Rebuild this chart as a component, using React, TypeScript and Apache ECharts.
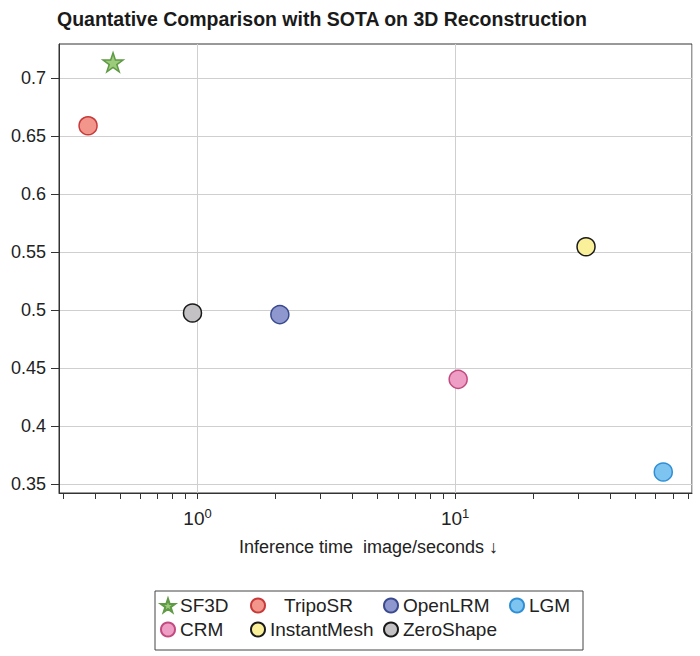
import React, { useEffect, useRef } from 'react';
import * as echarts from 'echarts';

const chartTitle = 'Quantative Comparison with SOTA on 3D Reconstruction';
const xAxisName = 'Inference time  image/seconds ↓';
const methods = ['SF3D', 'TripoSR', 'OpenLRM', 'LGM', 'CRM', 'InstantMesh', 'ZeroShape'];
const inferenceTimes = [0.47, 0.376, 2.087, 64.2, 10.27, 32.2, 0.956];
const scores = [0.7138, 0.6591, 0.4963, 0.3606, 0.4405, 0.5548, 0.4977];
const fillColors = ['#9ccb7b', '#f2968b', '#8e98cf', '#7ec4f0', '#ee9ec4', '#fbf09a', '#c3c1c3'];
const borderColors = ['#5f9a45', '#c83a3a', '#3b4a8f', '#2f8fd5', '#c24a80', '#1a1a1a', '#1a1a1a'];
const yTickValues = [0.35, 0.4, 0.45, 0.5, 0.55, 0.6, 0.65, 0.7];
const xLabelValues = [1, 10];
const xTickValues = [
  0.3, 0.4, 0.5, 0.6, 0.7, 0.8, 0.9,
  1, 2, 3, 4, 5, 6, 7, 8, 9,
  10, 20, 30, 40, 50, 60, 70, 80,
];
const legendColumns = [
  ['SF3D', 'CRM'],
  ['TripoSR', 'InstantMesh'],
  ['OpenLRM', 'ZeroShape'],
  ['LGM'],
];

const FONT = '"Liberation Sans", Arial, Helvetica, sans-serif';
const STAR = 'path://M50 0 L61.23 34.55 L97.55 34.55 L68.17 55.9 L79.39 90.45 L50 69.1 L20.61 90.45 L31.83 55.9 L2.45 34.55 L38.77 34.55 Z';

export default function App() {
  const ref = useRef<HTMLDivElement>(null);
  useEffect(() => {
    if (!ref.current) return;
    const chart = echarts.init(ref.current, undefined, { renderer: 'svg' });
    const legendLefts = [160, 250, 383, 509];
    const series = methods.map((m, i) => ({
      type: 'scatter',
      name: m,
      data: [[inferenceTimes[i], scores[i]]],
      symbol: m === 'SF3D' ? STAR : 'circle',
      symbolKeepAspect: true,
      symbolSize: m === 'SF3D' ? 20 : 18,
      itemStyle: { color: fillColors[i], borderColor: borderColors[i], borderWidth: 1.5, opacity: 1 },
      emphasis: { disabled: true },
    }));
    chart.setOption({
      animation: false,
      backgroundColor: '#fff',
      textStyle: { fontFamily: FONT },
      title: {
        text: chartTitle,
        left: 57,
        top: 9,
        padding: 0,
        textStyle: { fontFamily: FONT, fontSize: 19.5, fontWeight: 'bold', color: '#1a1a1a' },
      },
      grid: {
        left: 59,
        right: 8,
        top: 44,
        bottom: 163,
        show: true,
        borderColor: '#333',
        borderWidth: 1,
        backgroundColor: 'transparent',
      },
      xAxis: [
        {
          type: 'log',
          logBase: 10,
          min: 0.29,
          max: 83,
          position: 'bottom',
          axisLine: { show: true, lineStyle: { color: '#333', width: 1 } },
          axisTick: { show: false },
          axisLabel: {
            customValues: xLabelValues,
            margin: 14,
            color: '#222',
            fontFamily: FONT,
            formatter: (v: number) => '{b|10}{s|' + Math.round(Math.log10(v)) + '}',
            rich: {
              b: { fontSize: 19, lineHeight: 22, color: '#222', fontFamily: FONT },
              s: { fontSize: 13, lineHeight: 13, verticalAlign: 'top', color: '#222', fontFamily: FONT },
            },
          },
          splitLine: { show: true, lineStyle: { color: '#cfcfcf', width: 1 } },
          name: xAxisName,
          nameLocation: 'middle',
          nameGap: 45,
          nameTextStyle: { fontSize: 18, color: '#222', fontFamily: FONT, padding: [0, 14, 0, 0] },
        },
        {
          type: 'log',
          logBase: 10,
          min: 0.29,
          max: 83,
          position: 'bottom',
          offset: 0,
          axisLine: { show: false },
          axisLabel: { show: false },
          splitLine: { show: false },
          axisTick: {
            show: true,
            customValues: xTickValues,
            length: 6,
            lineStyle: { color: '#333', width: 1 },
          },
        },
      ],
      yAxis: {
        type: 'value',
        min: 0.3425,
        max: 0.7296,
        axisLine: { show: true, lineStyle: { color: '#333', width: 1 } },
        axisTick: { show: true, customValues: yTickValues, length: 8, lineStyle: { color: '#333', width: 1 } },
        axisLabel: {
          customValues: yTickValues,
          fontSize: 18,
          color: '#222',
          margin: 13,
          fontFamily: FONT,
          formatter: (v: number) => String(parseFloat(v.toFixed(2))),
        },
        splitLine: { show: true, lineStyle: { color: '#cfcfcf', width: 1 } },
      },
      legend: legendColumns.map((col, i) => ({
        data: col,
        orient: 'vertical',
        left: legendLefts[i],
        top: 596,
        padding: 0,
        itemWidth: 14,
        itemHeight: 14,
        itemGap: 5,
        selectedMode: false,
        formatter: (name: string) => (name === 'TripoSR' ? '{g|}' + name : name),
        textStyle: {
          fontSize: 19,
          color: '#222',
          fontFamily: FONT,
          rich: { g: { width: 14 } },
        },
      })),
      graphic: [
        {
          type: 'rect',
          shape: { x: 155, y: 591, width: 428, height: 59 },
          style: { fill: 'none', stroke: '#444', lineWidth: 1 },
          z: 0,
        },
      ],
      series,
    });
    return () => chart.dispose();
  }, []);
  return (
    <div style={{ position: 'absolute', left: 0, top: 0, width: 700, height: 656 }}>
      <div ref={ref} style={{ width: 700, height: 656 }} />
    </div>
  );
}
